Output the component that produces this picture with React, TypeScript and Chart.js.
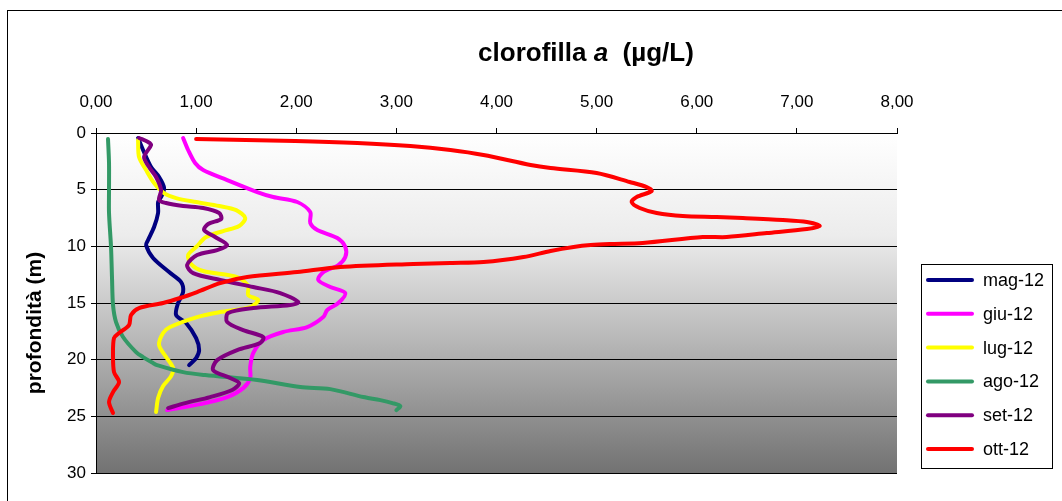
import React, { useEffect, useRef } from "react";
import { Chart, registerables } from "chart.js";

Chart.register(...registerables);

// ---- data (depth in m, chlorophyll a in µg/L) ----
const seriesLabels = ["mag-12", "giu-12", "lug-12", "ago-12", "set-12", "ott-12"];
const seriesColors = ["#000080", "#FF00FF", "#FFFF00", "#339966", "#800080", "#FF0000"];

const magDepth = [0.44, 1.5, 3.0, 3.88, 4.85, 5.65, 6.09, 7.06, 8.3, 9.44, 9.89, 11.03, 12.27, 13.15, 14.03, 15.0, 16.06, 16.77, 18.1, 19.15, 19.86, 20.48];
const magChl = [0.42, 0.47, 0.55, 0.63, 0.68, 0.65, 0.62, 0.62, 0.58, 0.52, 0.5, 0.57, 0.73, 0.85, 0.87, 0.82, 0.8, 0.9, 1.0, 1.03, 1.0, 0.93];

const giuDepth = [0.44, 1.5, 2.65, 3.27, 4.15, 5.21, 5.65, 6.09, 6.97, 7.94, 8.56, 9.27, 10.06, 10.94, 11.65, 12.27, 12.97, 13.59, 14.12, 15.0, 15.62, 16.24, 17.12, 17.56, 18.27, 19.42, 20.65, 21.62, 22.51, 23.3, 23.92, 24.45];
const giuChl = [0.87, 0.92, 0.99, 1.07, 1.31, 1.61, 1.77, 2.01, 2.14, 2.14, 2.21, 2.41, 2.49, 2.49, 2.42, 2.27, 2.22, 2.34, 2.49, 2.42, 2.31, 2.27, 2.11, 1.87, 1.67, 1.57, 1.54, 1.54, 1.47, 1.31, 1.04, 0.71];

const lugDepth = [0.62, 2.12, 3.27, 4.41, 5.3, 5.74, 6.09, 6.44, 6.8, 7.5, 8.2, 8.65, 9.18, 10.06, 10.77, 11.56, 12.18, 12.71, 13.5, 14.3, 14.74, 15.36, 15.8, 16.24, 17.12, 17.65, 18.71, 19.77, 20.74, 21.45, 22.33, 23.39, 24.62];
const lugChl = [0.42, 0.43, 0.5, 0.58, 0.68, 0.8, 1.0, 1.23, 1.4, 1.49, 1.43, 1.27, 1.1, 1.0, 0.92, 0.95, 1.07, 1.41, 1.52, 1.52, 1.62, 1.54, 1.24, 1.01, 0.74, 0.67, 0.63, 0.7, 0.77, 0.75, 0.67, 0.62, 0.6];

const agoDepth = [0.53, 2.65, 5.03, 7.06, 10.06, 12.8, 15.18, 16.68, 18.0, 19.33, 19.77, 20.3, 20.48, 21.1, 21.36, 21.8, 22.42, 22.6, 23.3, 23.57, 23.83, 24.1, 24.45];
const agoChl = [0.12, 0.13, 0.13, 0.13, 0.15, 0.16, 0.17, 0.2, 0.27, 0.4, 0.47, 0.57, 0.61, 0.87, 1.09, 1.61, 2.04, 2.34, 2.67, 2.84, 2.96, 3.04, 3.0];

const setDepth = [0.44, 0.79, 1.06, 2.12, 3.0, 3.88, 5.03, 5.91, 6.18, 6.44, 6.62, 7.06, 7.59, 8.03, 8.56, 9.18, 9.89, 10.33, 10.77, 11.65, 12.36, 12.97, 13.59, 14.12, 14.92, 15.18, 15.45, 15.89, 16.68, 17.39, 18.0, 18.53, 19.15, 20.04, 20.92, 21.62, 22.07, 22.68, 23.3, 23.83, 24.27];
const setChl = [0.43, 0.52, 0.55, 0.48, 0.53, 0.6, 0.65, 0.63, 0.7, 0.87, 1.07, 1.23, 1.25, 1.12, 1.08, 1.19, 1.31, 1.21, 1.01, 0.91, 0.97, 1.24, 1.57, 1.84, 2.02, 1.94, 1.57, 1.32, 1.31, 1.47, 1.67, 1.64, 1.41, 1.21, 1.17, 1.34, 1.43, 1.36, 1.14, 0.89, 0.72];

const ottDepth = [0.53, 0.7, 0.88, 1.15, 1.5, 1.94, 2.82, 3.09, 3.53, 4.32, 4.77, 5.12, 5.65, 6.09, 6.62, 7.06, 7.33, 7.41, 7.5, 7.68, 7.86, 8.21, 8.47, 8.83, 9.18, 9.18, 9.71, 9.8, 9.89, 10.06, 10.41, 10.94, 11.39, 11.47, 11.56, 11.83, 12.27, 12.71, 13.24, 14.03, 14.56, 15.0, 15.45, 16.06, 16.95, 17.65, 18.09, 19.6, 21.1, 21.98, 22.86, 23.74, 24.71];
const ottChl = [1.0, 1.99, 2.61, 3.14, 3.54, 3.87, 4.34, 4.54, 5.0, 5.33, 5.5, 5.55, 5.4, 5.35, 5.43, 5.6, 5.86, 6.2, 6.46, 6.86, 7.1, 7.23, 7.1, 6.7, 6.3, 6.06, 5.46, 5.13, 4.94, 4.77, 4.54, 4.27, 3.87, 3.54, 3.17, 2.44, 2.01, 1.51, 1.24, 1.01, 0.84, 0.67, 0.43, 0.35, 0.33, 0.23, 0.18, 0.17, 0.18, 0.23, 0.17, 0.13, 0.17];

const seriesDepths = [magDepth, giuDepth, lugDepth, agoDepth, setDepth, ottDepth];
const seriesValues = [magChl, giuChl, lugChl, agoChl, setChl, ottChl];

const xMin = 0, xMax = 8, xStep = 1;
const yMin = 0, yMax = 30, yStep = 5;
const yTitle = "profondità (m)";

const FONT = "'Liberation Sans', Arial, sans-serif";

const decorPlugin = {
  id: "decor",
  beforeDraw(chart: any) {
    const { ctx, chartArea } = chart;
    const { left, top, right, bottom } = chartArea;
    ctx.save();
    ctx.fillStyle = "#ffffff";
    ctx.fillRect(0, 0, chart.width, chart.height);
    ctx.strokeStyle = "#000000";
    ctx.lineWidth = 1;
    ctx.strokeRect(7.5, 10.5, chart.width + 50, chart.height + 50);
    const g = ctx.createLinearGradient(0, top, 0, bottom);
    g.addColorStop(0, "#ffffff");
    g.addColorStop(0.3, "#ececec");
    g.addColorStop(0.55, "#c2c2c2");
    g.addColorStop(1, "#727272");
    ctx.fillStyle = g;
    ctx.fillRect(left, top, right - left, bottom - top);
    ctx.restore();
  },
  afterDraw(chart: any) {
    const { ctx } = chart;
    ctx.save();
    const parts = [
      { t: "clorofilla ", f: `bold 26px ${FONT}` },
      { t: "a", f: `italic bold 26px ${FONT}` },
      { t: "  (µg/L)", f: `bold 26px ${FONT}` },
    ];
    let total = 0;
    parts.forEach((p) => { ctx.font = p.f; total += ctx.measureText(p.t).width; });
    let x = 586 - total / 2;
    ctx.fillStyle = "#000";
    ctx.textBaseline = "alphabetic";
    parts.forEach((p) => { ctx.font = p.f; ctx.fillText(p.t, x, 61); x += ctx.measureText(p.t).width; });
    ctx.translate(35, 323);
    ctx.rotate(-Math.PI / 2);
    ctx.font = `bold 21px ${FONT}`;
    ctx.textAlign = "center";
    ctx.textBaseline = "middle";
    ctx.fillText(yTitle, 0, 0);
    ctx.restore();

    ctx.save();
    ctx.fillStyle = "#fff";
    ctx.fillRect(921, 264, 131, 204);
    ctx.strokeStyle = "#000";
    ctx.lineWidth = 1;
    ctx.strokeRect(921.5, 264.5, 131, 204);
    chart.data.datasets.forEach((ds: any, i: number) => {
      const y = 280 + i * 33.8;
      ctx.strokeStyle = ds.borderColor;
      ctx.lineWidth = 4;
      ctx.lineCap = "round";
      ctx.beginPath();
      ctx.moveTo(928, y);
      ctx.lineTo(972, y);
      ctx.stroke();
      ctx.fillStyle = "#000";
      ctx.font = `18px ${FONT}`;
      ctx.textBaseline = "middle";
      ctx.textAlign = "left";
      ctx.fillText(ds.label, 983, y + 1);
    });
    ctx.restore();
  },
};

export default function App() {
  const ref = useRef<HTMLCanvasElement | null>(null);
  useEffect(() => {
    if (!ref.current) return;
    const datasets = seriesLabels.map((label, i) => ({
      label,
      data: seriesDepths[i].map((d, k) => ({ x: seriesValues[i][k], y: d })),
      borderColor: seriesColors[i],
      backgroundColor: seriesColors[i],
      borderWidth: 4,
      pointRadius: 0,
      showLine: true,
      tension: 0.3,
      borderCapStyle: "round",
      borderJoinStyle: "round",
      order: seriesLabels.length - i,
    }));
    const chart = new Chart(ref.current, {
      type: "scatter",
      data: { datasets } as any,
      options: {
        animation: false,
        responsive: false,
        devicePixelRatio: 1,
        layout: { padding: { left: 50, right: 165, top: 88, bottom: 28 } },
        plugins: { legend: { display: false }, tooltip: { enabled: false }, title: { display: false } },
        scales: {
          x: {
            type: "linear",
            position: "top",
            min: xMin,
            max: xMax,
            afterFit(scale: any) { scale.height = 45; },
            ticks: {
              stepSize: xStep,
              color: "#000",
              font: { family: FONT, size: 17 },
              padding: 15,
              callback: (v: any) => Number(v).toFixed(2).replace(".", ","),
            },
            grid: { drawOnChartArea: false, drawTicks: true, tickLength: 5, color: "#000" },
            border: { display: true, color: "#000", width: 1 },
          },
          y: {
            type: "linear",
            reverse: true,
            min: yMin,
            max: yMax,
            afterFit(scale: any) { scale.width = 46; },
            ticks: {
              stepSize: yStep,
              color: "#000",
              font: { family: FONT, size: 17 },
              padding: 5,
            },
            grid: { drawOnChartArea: true, drawTicks: true, tickLength: 5, color: "#000", lineWidth: 1 },
            border: { display: true, color: "#000", width: 1 },
          },
        },
      } as any,
      plugins: [decorPlugin],
    });
    return () => chart.destroy();
  }, []);
  return (
    <div style={{ position: "absolute", left: 0, top: 0, width: 1062, height: 501 }}>
      <canvas ref={ref} width={1062} height={501} style={{ display: "block", width: 1062, height: 501 }} />
    </div>
  );
}
